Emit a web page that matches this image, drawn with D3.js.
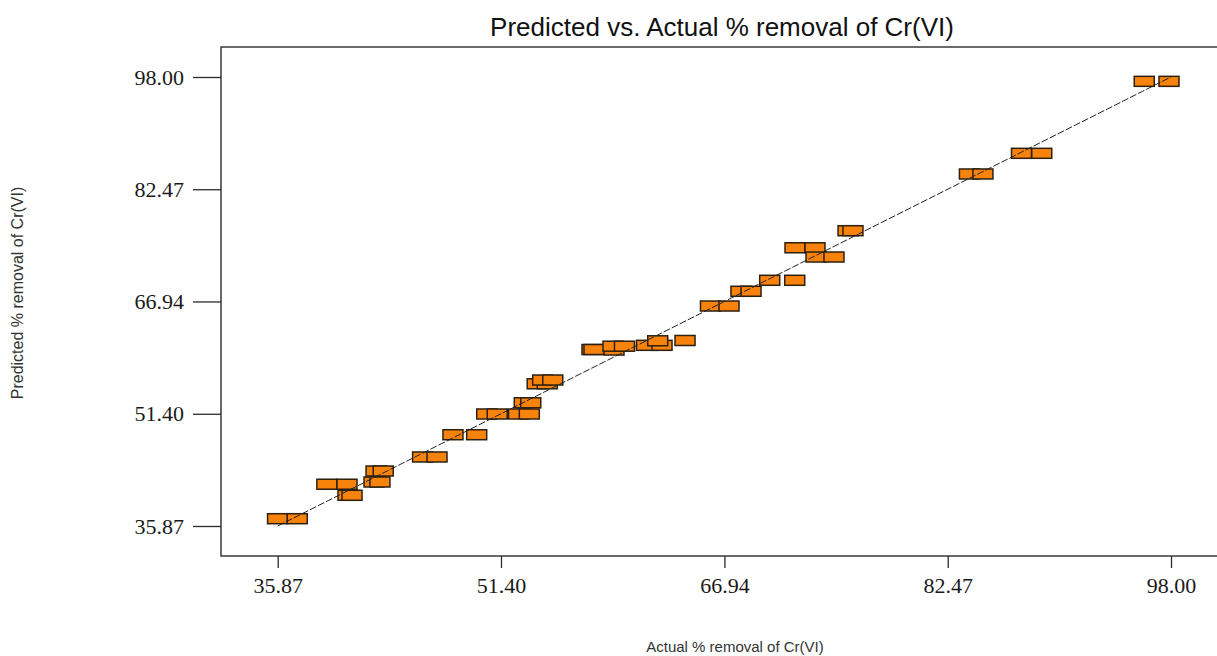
<!DOCTYPE html>
<html>
<head>
<meta charset="utf-8">
<script src="https://cdn.jsdelivr.net/npm/d3@7"></script>
<style>
  html, body { margin: 0; padding: 0; background: #fff; }
  svg { display: block; }
</style>
</head>
<body>
<svg id="chart" width="1217" height="656"></svg>
<script>
// Actual vs. model-predicted % removal of Cr(VI) for each run
const actual = [
  35.86, 37.23, 39.29, 40.69, 40.76, 41.04, 42.71, 43.21, 42.57, 42.98,
  45.95, 46.95, 48.06, 49.71, 50.41, 51.14, 52.62, 53.37, 53.02, 53.47,
  53.92, 54.62, 54.30, 55.00, 57.73, 57.87, 59.26, 59.19, 59.99, 61.52,
  62.60, 62.30, 64.20, 65.97, 67.26, 68.09, 68.79, 70.09, 71.83, 71.85,
  73.24, 73.31, 74.56, 75.54, 75.88, 83.98, 84.92, 87.60, 89.01, 96.14,
  97.86
];
const predicted = [
  36.88, 36.88, 41.65, 41.65, 40.12, 40.12, 43.48, 43.48, 41.96, 41.96,
  45.42, 45.42, 48.50, 48.50, 51.37, 51.37, 51.37, 51.37, 52.92, 52.92,
  55.55, 55.55, 56.07, 56.07, 60.29, 60.29, 60.22, 60.75, 60.75, 60.87,
  60.87, 61.50, 61.54, 66.31, 66.31, 68.35, 68.35, 69.87, 69.87, 74.37,
  74.37, 73.09, 73.09, 76.73, 76.73, 84.58, 84.58, 87.44, 87.44, 97.40,
  97.40
];
const tickValues = [35.87, 51.40, 66.94, 82.47, 98.00];
const axisMin = 35.87, axisMax = 98.00;

const title = "Predicted vs. Actual % removal of Cr(VI)";
const xTitle = "Actual % removal of Cr(VI)";
const yTitle = "Predicted % removal of Cr(VI)";

const svg = d3.select("#chart");

// plot frame (the right edge runs past the canvas)
const frame = { left: 221, top: 47, right: 1232, bottom: 556 };

const x = d3.scaleLinear().domain([axisMin, axisMax]).range([277.7, 1171]);
const y = d3.scaleLinear().domain([axisMin, axisMax]).range([526, 77]);

svg.append("rect")
  .attr("x", frame.left).attr("y", frame.top)
  .attr("width", frame.right - frame.left)
  .attr("height", frame.bottom - frame.top)
  .attr("fill", "none")
  .attr("stroke", "#2b2b2b")
  .attr("stroke-width", 1.4);

// axes
const xAxis = svg.append("g")
  .attr("transform", `translate(0,${frame.bottom})`)
  .call(d3.axisBottom(x).tickValues(tickValues).tickFormat(d3.format(".2f"))
        .tickSize(12).tickPadding(9));
const yAxis = svg.append("g")
  .attr("transform", `translate(${frame.left},0)`)
  .call(d3.axisLeft(y).tickValues(tickValues).tickFormat(d3.format(".2f"))
        .tickSize(28).tickPadding(9));

[xAxis, yAxis].forEach(g => {
  g.select(".domain").remove();
  g.selectAll(".tick line").attr("stroke", "#2b2b2b").attr("stroke-width", 1.3);
  g.selectAll(".tick text")
    .attr("fill", "#1a1a1a")
    .style("font-family", "'Liberation Serif', 'Times New Roman', serif")
    .style("font-size", "22px");
});

// run markers
const mw = 20, mh = 10;
const pts = actual.map((a, i) => ({ a, p: predicted[i] }));
svg.append("g").selectAll("rect")
  .data(pts)
  .join("rect")
  .attr("x", d => x(d.a) - mw / 2)
  .attr("y", d => y(d.p) - mh / 2)
  .attr("width", mw)
  .attr("height", mh)
  .attr("fill", "#f7820c")
  .attr("stroke", "#2e2010")
  .attr("stroke-width", 1.5);

// y = x reference line, drawn over the markers
svg.append("line")
  .attr("x1", x(axisMin)).attr("y1", y(axisMin))
  .attr("x2", x(axisMax)).attr("y2", y(axisMax))
  .attr("stroke", "#222")
  .attr("stroke-width", 1)
  .attr("stroke-dasharray", "7,2");

// titles
svg.append("text")
  .attr("x", 722).attr("y", 36)
  .attr("text-anchor", "middle")
  .attr("fill", "#111")
  .style("font-family", "'Liberation Sans', Arial, sans-serif")
  .style("font-size", "26px")
  .text(title);

svg.append("text")
  .attr("x", 735).attr("y", 652)
  .attr("text-anchor", "middle")
  .attr("fill", "#333")
  .style("font-family", "'Liberation Sans', Arial, sans-serif")
  .style("font-size", "15px")
  .text(xTitle);

svg.append("text")
  .attr("transform", "translate(23,293) rotate(-90)")
  .attr("text-anchor", "middle")
  .attr("fill", "#333")
  .style("font-family", "'Liberation Sans', Arial, sans-serif")
  .style("font-size", "16px")
  .text(yTitle);
</script>
</body>
</html>
